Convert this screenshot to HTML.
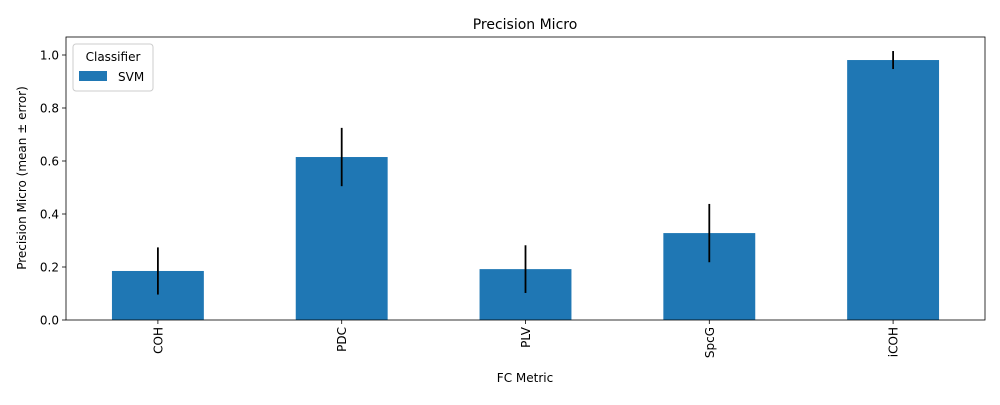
<!DOCTYPE html>
<html><head><meta charset="utf-8"><style>
body{margin:0;background:#fff;}
svg text{font-family:"DejaVu Sans","Liberation Sans",sans-serif;fill:#000;}
</style></head><body>
<svg id="chart" width="1000" height="400" viewBox="0 0 1000 400" xmlns="http://www.w3.org/2000/svg">
<text x="525" y="29" font-size="14" text-anchor="middle">Precision Micro</text>
<g id="yaxis"></g>
<g id="xaxis"></g>
<g id="bars"></g>
<g id="errs"></g>
<rect x="66" y="37" width="919" height="283" fill="none" stroke="#000" stroke-width="0.8"/>
<text x="525" y="382" font-size="12" text-anchor="middle">FC Metric</text>
<text transform="translate(26,178) rotate(-90)" font-size="12" text-anchor="middle">Precision Micro (mean ± error)</text>
<g>
<rect x="73" y="44" width="80" height="47" rx="3" fill="#fff" stroke="#ccc" stroke-width="1"/>
<text x="113" y="61" font-size="12" text-anchor="middle">Classifier</text>
<rect x="79" y="71" width="28" height="10" fill="#1f77b4"/>
<text x="118" y="81" font-size="12">SVM</text>
</g>
</svg>
<script>
const categories=["COH","PDC","PLV","SpcG","iCOH"];
const means=[0.185,0.615,0.192,0.328,0.981];
const errors=[0.089,0.11,0.09,0.11,0.034];
const yTicks=[0.0,0.2,0.4,0.6,0.8,1.0];
const NS="http://www.w3.org/2000/svg";
const L=66,R=985,B=320;
const y=v=>B-v*265;
const band=(R-L)/categories.length;
const xc=i=>L+band*(i+0.5);
function mk(t,a,p){const e=document.createElementNS(NS,t);for(const k in a)e.setAttribute(k,a[k]);p.appendChild(e);return e;}
const ya=document.getElementById('yaxis'),xa=document.getElementById('xaxis'),bg=document.getElementById('bars'),eg=document.getElementById('errs');
yTicks.forEach(v=>{
 const l=mk('line',{x1:L-4,x2:L,y1:y(v),y2:y(v),stroke:'#000','stroke-width':0.8},ya);
 
 
 const t=mk('text',{x:L-7,y:y(v)+4.5,'font-size':12,'text-anchor':'end'},ya);
 t.textContent=v.toFixed(1);
 
 
});
categories.forEach((c,i)=>{
 const x=xc(i),w=band*0.5;
 const r=mk('rect',{x:x-w/2,y:y(means[i]),width:w,height:B-y(means[i]),fill:'#1f77b4'},bg);
 
 
 const e=mk('line',{x1:x,x2:x,y1:y(means[i]+errors[i]),y2:y(means[i]-errors[i]),stroke:'#000','stroke-width':1.8},eg);
 
 
 const tk=mk('line',{x1:x,x2:x,y1:B,y2:B+4,stroke:'#000','stroke-width':0.8},xa);
 
 
 const t=mk('text',{transform:`translate(${x+4.5},${B+7}) rotate(-90)`,'font-size':12,'text-anchor':'end'},xa);
 t.textContent=c;
 
 
});
</script>
</body></html>
